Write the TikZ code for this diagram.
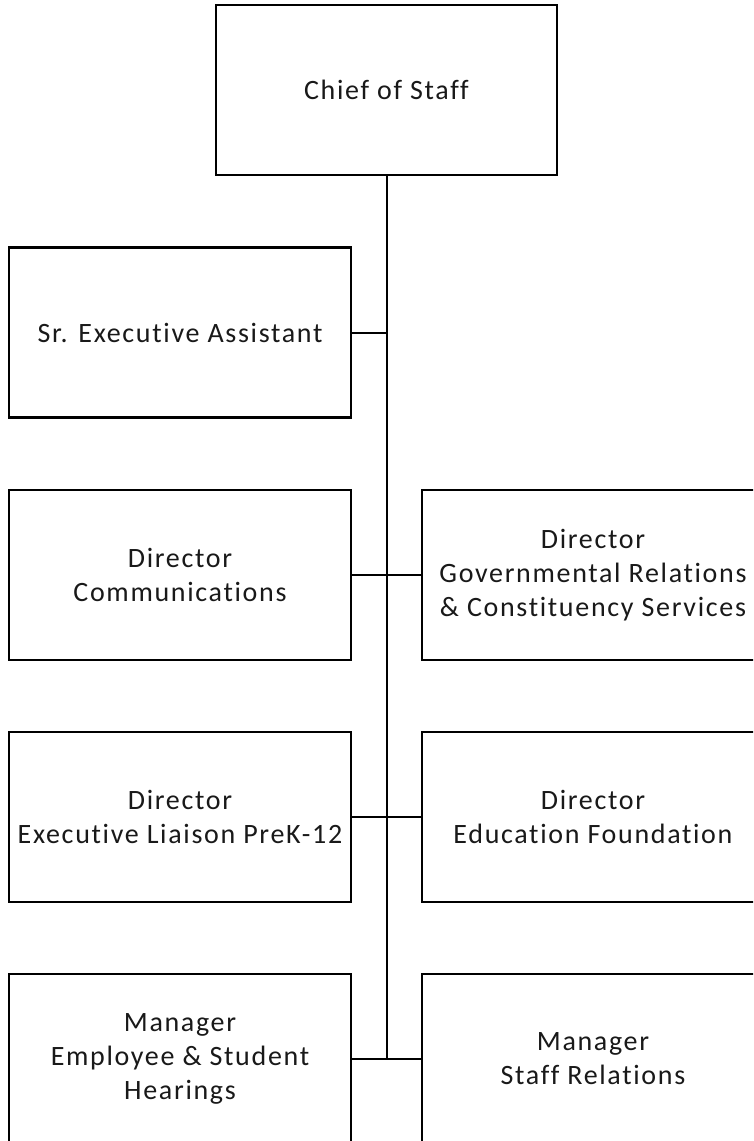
\documentclass[tikz,border=0pt]{standalone}
\usepackage{fontspec}
\setmainfont[Ligatures={NoCommon},LetterSpace=6]{Carlito}
\begin{document}
\begin{tikzpicture}[x=1pt,y=-1pt,
  orgbox/.style={draw=black,line width=2.6pt,minimum width=342pt,minimum height=170pt,inner sep=0pt,align=center,font=\fontsize{28}{34}\selectfont,text=black!90},
  link/.style={draw=black,line width=2pt}]
\clip (0,0) rectangle (753,1141);
\fill[white] (0,0) rectangle (753,1141);
\node[orgbox,minimum width=341pt] (chief) at (386.5,90) {Chief of Staff};
\node[orgbox] (sea) at (180,332.5) {Sr. Executive Assistant};
\node[orgbox] (comm) at (180,575) {Director\\Communications};
\node[orgbox] (gov) at (593,575) {Director\\Governmental Relations\\\& Constituency Services};
\node[orgbox] (liais) at (180,817) {Director\\Executive Liaison PreK-12};
\node[orgbox] (edu) at (593,817) {Director\\Education Foundation};
\node[orgbox] (mgr) at (180,1059) {Manager\\Employee \& Student\\Hearings};
\node[orgbox] (staff) at (593,1059) {Manager\\Staff Relations};
\coordinate (bot) at (386.5,1059);
\coordinate (j1) at (386.5,332.5);
\draw[link] (chief.south) -- (bot);
\draw[link] (sea.east) -- (j1);
\draw[link] (comm.east) -- (gov.west);
\draw[link] (liais.east) -- (edu.west);
\draw[link] (mgr.east) -- (staff.west);
\end{tikzpicture}
\end{document}
